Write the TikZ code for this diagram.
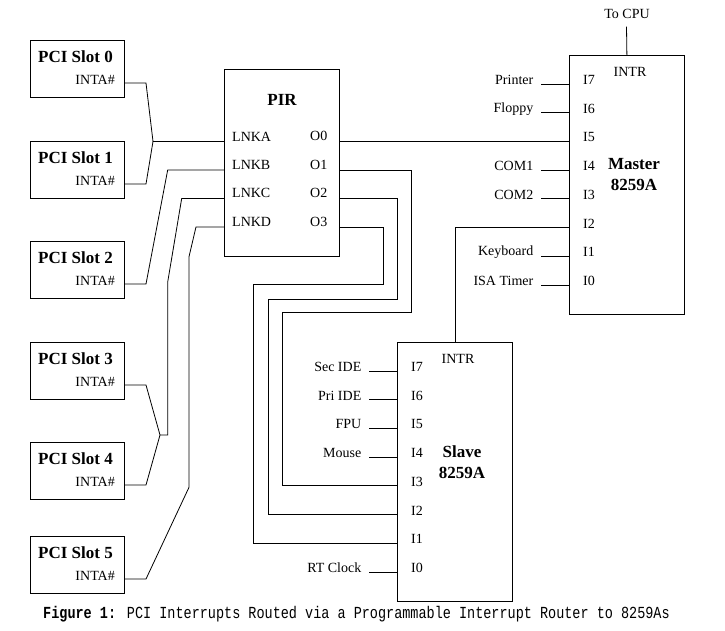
\documentclass[tikz,border=0pt]{standalone}
\usepackage{fontspec}
\setmainfont{Liberation Serif}
\newfontfamily\capfont{Liberation Mono}
\usetikzlibrary{calc}
\usetikzlibrary{positioning}

\tikzset{
	box/.style={draw,thick,inner sep=0pt,anchor=north west},
	pin/.style={inner sep=0pt,font=\fontsize{14}{16}\selectfont},
	title/.style={inner sep=0pt,align=center,font=\fontsize{17}{21}\selectfont\bfseries},
	wire/.style={line width=0.8pt},
}

\begin{document}
\begin{tikzpicture}[x=1pt,y=-1pt]
		\useasboundingbox (0,0) rectangle (725,630);
		% PCI slots
		\foreach \i/\y in {0/40,1/141,2/241,3/342,4/442,5/536}{
			\node[box,minimum width=94pt,minimum height=57pt] (slot\i) at (30,\y) {};
			\node[title,anchor=west] (slotname\i) at (38,\y+17) {PCI Slot \i};
			\node[pin,anchor=east] (inta\i) at (115,\y+40) {INTA\#};
			\coordinate (p\i) at (124,\y+43);
		}
		% router
		\node[box,minimum width=115pt,minimum height=187pt] (pir) at (224,69) {};
		\node[title] (pirname) at (282,100) {PIR};
		\foreach \L [count=\j from 0] in {A,B,C,D}{
			\node[pin,anchor=west] (lnktxt\L) at (232,141.4+28.5*\j-5) {LNK\L};
			\node[pin,anchor=west] (otxt\j) at (310,141.4+28.5*\j-5) {O\j};
			\coordinate (lnk\L) at (224,141.4+28.5*\j);
			\coordinate (o\j) at (339,141.4+28.5*\j);
		}
		% the two 8259A
		\foreach \c/\x/\y/\nm in {mst/569/55/Master,slv/397/342/Slave}{
			\node[box,minimum width=115pt,minimum height=259pt] (\c) at (\x,\y) {};
			\node[pin] (\c intr) at (\x+61,\y+17) {INTR};
			\node[title] (\c name) at (\x+65,\y+120) {\nm\\8259A};
			\foreach \k in {0,...,7}{
				\node[pin] (\c L\k) at (\x+20,\y+29+28.7*7-28.7*\k-4) {I\k};
				\coordinate (\c\k) at (\x,\y+29+28.7*7-28.7*\k);
			}
		}
		\foreach \c/\k/\t in {mst/7/Printer,mst/6/Floppy,mst/4/COM1,mst/3/COM2,mst/1/Keyboard,mst/0/ISA Timer,slv/7/Sec IDE,slv/6/Pri IDE,slv/5/FPU,slv/4/Mouse,slv/0/RT Clock}{
			\coordinate (in\c\k) at ($(\c\k)+(-28,0)$);
			\node[pin,anchor=east] (txt\c\k) at ($(in\c\k)+(-7.5,-4)$) {\t};
			\draw[wire] (in\c\k) -- (\c\k);
		}
		\node[pin] (cpu) at (627,14.3) {To CPU};
		\coordinate (cpuend) at (626.5,26.7);
		\draw[wire] (mst.north) -- (cpuend);
		\draw[wire] (slv.north) |- (mst2);
		% slots to links
		\coordinate (ja) at (153,141.4);
		\draw[wire] (p0) -- ++(22,0) -- (ja) -- (lnkA);
		\draw[wire] (p1) -- ++(22,0) -- (ja);
		\draw[wire] (lnkB) -- ++(-56.3,0) -- ($(p2)+(22,0)$) -- (p2);
		\coordinate (jc) at (160,435);
		\draw[wire] (p3) -- ++(22,0) -- (jc) -- ++(7.7,0) -- (167.7,282) -- (181.7,198.4) -- (lnkC);
		\draw[wire] (p4) -- ++(22,0) -- (jc);
		\draw[wire] (p5) -- ++(22,0) -- (189,487.3) -- (189,256.7) -- (196,226.9) -- (lnkD);
		% outputs
		\draw[wire] (o0) -- (mst5);
		\draw[wire] (o1) -| (411.7,312.7) -| ([xshift=-114.7pt]slv3) -- (slv3);
		\draw[wire] (o2) -| (397.3,299.3) -| ([xshift=-129pt]slv2) -- (slv2);
		\draw[wire] (o3) -| (383.3,284.3) -| ([xshift=-144pt]slv1) -- (slv1);
		\node (caption) at (356.5,614) {\scalebox{1}[1.25]{\capfont\fontsize{13.5}{15}\selectfont\textbf{Figure 1:} PCI Interrupts Routed via a Programmable Interrupt Router to 8259As}};
	\end{tikzpicture}
\end{document}
